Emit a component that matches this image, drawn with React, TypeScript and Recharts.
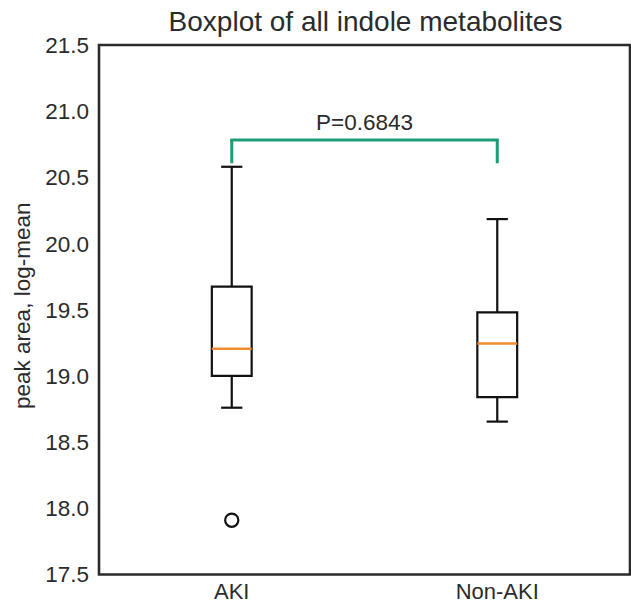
import React from 'react';
import {
  ComposedChart,
  XAxis,
  YAxis,
  ReferenceArea,
  ReferenceLine,
  Scatter,
} from 'recharts';

// ---- data ----
const categories = ['AKI', 'Non-AKI'];
const positions = [1, 2];
const whiskerLow = [18.76, 18.655];
const q1 = [19.0, 18.84];
const medians = [19.205, 19.245];
const q3 = [19.675, 19.48];
const whiskerHigh = [20.58, 20.185];
const outlierGroups = [1];
const outlierValues = [17.91];
const yTicks = [17.5, 18.0, 18.5, 19.0, 19.5, 20.0, 20.5, 21.0, 21.5];
const pLabel = 'P=0.6843';
const bracketTop = 20.782;
const bracketBottom = 20.607;
const titleText = 'Boxplot of all indole metabolites';
const yLabelText = 'peak area, log-mean';

const FONT = '"Liberation Sans", Arial, Helvetica, sans-serif';
const TEXT = '#2b2b2b';
const BOX = '#111111';
const MEDIAN = '#f28b30';
const GREEN = '#1b9e77';
const BOX_HALF = 0.075;
const CAP_HALF = 0.04;

const outlierData = outlierGroups.map((g, i) => ({ x: g, y: outlierValues[i] }));

const OutlierShape = (props: any) => (
  <circle cx={props.cx} cy={props.cy} r={6.6} fill="none" stroke={BOX} strokeWidth={2.2} />
);

const YLabel = (props: any) => {
  const vb = props.viewBox || { y: 45, height: 529.5 };
  const cy = vb.y + vb.height / 2 - 4;
  const x = 29.5;
  return (
    <text
      x={x}
      y={cy}
      transform={`rotate(-90, ${x}, ${cy})`}
      textAnchor="middle"
      fontFamily={FONT}
      fontSize={22.5}
      fill={TEXT}
    >
      {yLabelText}
    </text>
  );
};

export default function App() {
  const W = 631;
  const H = 604;
  return (
    <div style={{ position: 'absolute', left: 0, top: 0, width: W, height: H, background: '#fff', overflow: 'hidden' }}>
      <ComposedChart
        width={W}
        height={H}
        margin={{ top: 45, right: 1, bottom: 0, left: 0 }}
        style={{ fontFamily: FONT }}
      >
        <XAxis
          type="number"
          dataKey="x"
          domain={[0.5, 2.5]}
          ticks={positions}
          interval={0}
          allowDataOverflow
          axisLine={false}
          tickLine={false}
          tickSize={6}
          tickMargin={3}
          height={29.5}
          tickFormatter={(v: number) => categories[positions.indexOf(v)] ?? ''}
          tick={{ fill: TEXT, fontSize: 22, fontFamily: FONT }}
        />
        <YAxis
          type="number"
          dataKey="y"
          domain={[17.5, 21.5]}
          ticks={yTicks}
          interval={0}
          allowDataOverflow
          axisLine={false}
          tickLine={false}
          tickSize={6}
          tickMargin={4}
          width={99}
          tickFormatter={(v: number) => v.toFixed(1)}
          tick={{ fill: TEXT, fontSize: 22.5, fontFamily: FONT }}
          label={<YLabel />}
        />

        {/* boxes */}
        {positions.map((p, i) => (
          <ReferenceArea
            key={`box-${i}`}
            x1={p - BOX_HALF}
            x2={p + BOX_HALF}
            y1={q1[i]}
            y2={q3[i]}
            fill="none"
            fillOpacity={0}
            stroke={BOX}
            strokeWidth={2.2}
            ifOverflow="visible"
          />
        ))}
        {/* lower whiskers */}
        {positions.map((p, i) => (
          <ReferenceLine
            key={`wl-${i}`}
            segment={[{ x: p, y: whiskerLow[i] }, { x: p, y: q1[i] }]}
            stroke={BOX}
            strokeWidth={2.2}
            ifOverflow="visible"
          />
        ))}
        {/* upper whiskers */}
        {positions.map((p, i) => (
          <ReferenceLine
            key={`wh-${i}`}
            segment={[{ x: p, y: q3[i] }, { x: p, y: whiskerHigh[i] }]}
            stroke={BOX}
            strokeWidth={2.2}
            ifOverflow="visible"
          />
        ))}
        {/* caps */}
        {positions.map((p, i) => (
          <ReferenceLine
            key={`cl-${i}`}
            segment={[{ x: p - CAP_HALF, y: whiskerLow[i] }, { x: p + CAP_HALF, y: whiskerLow[i] }]}
            stroke={BOX}
            strokeWidth={2.2}
            ifOverflow="visible"
          />
        ))}
        {positions.map((p, i) => (
          <ReferenceLine
            key={`ch-${i}`}
            segment={[{ x: p - CAP_HALF, y: whiskerHigh[i] }, { x: p + CAP_HALF, y: whiskerHigh[i] }]}
            stroke={BOX}
            strokeWidth={2.2}
            ifOverflow="visible"
          />
        ))}
        {/* medians */}
        {positions.map((p, i) => (
          <ReferenceLine
            key={`md-${i}`}
            segment={[{ x: p - BOX_HALF, y: medians[i] }, { x: p + BOX_HALF, y: medians[i] }]}
            stroke={MEDIAN}
            strokeWidth={2.5}
            ifOverflow="visible"
          />
        ))}

        {/* significance bracket */}
        <ReferenceLine
          segment={[{ x: positions[0], y: bracketBottom }, { x: positions[0], y: bracketTop }]}
          stroke={GREEN}
          strokeWidth={3}
          ifOverflow="visible"
        />
        <ReferenceLine
          segment={[{ x: positions[1], y: bracketBottom }, { x: positions[1], y: bracketTop }]}
          stroke={GREEN}
          strokeWidth={3}
          ifOverflow="visible"
        />
        <ReferenceLine
          segment={[{ x: positions[0], y: bracketTop }, { x: positions[1], y: bracketTop }]}
          stroke={GREEN}
          strokeWidth={3}
          strokeLinecap="square"
          ifOverflow="visible"
          label={{ value: pLabel, position: 'top', offset: 10, fill: TEXT, fontSize: 22.5, fontFamily: FONT }}
        />

        <Scatter
          data={outlierData}
          dataKey="y"
          shape={<OutlierShape />}
          isAnimationActive={false}
        />

        {/* frame */}
        <ReferenceArea
          x1={0.5}
          x2={2.5}
          y1={17.5}
          y2={21.5}
          fill="none"
          fillOpacity={0}
          stroke={TEXT}
          strokeWidth={2.6}
          ifOverflow="visible"
        />
      </ComposedChart>
      <svg
        width={W}
        height={44}
        style={{ position: 'absolute', left: 0, top: 0, pointerEvents: 'none' }}
      >
        <text x={365.5} y={31} textAnchor="middle" fontFamily={FONT} fontSize={28} fill={TEXT}>
          {titleText}
        </text>
      </svg>
    </div>
  );
}
